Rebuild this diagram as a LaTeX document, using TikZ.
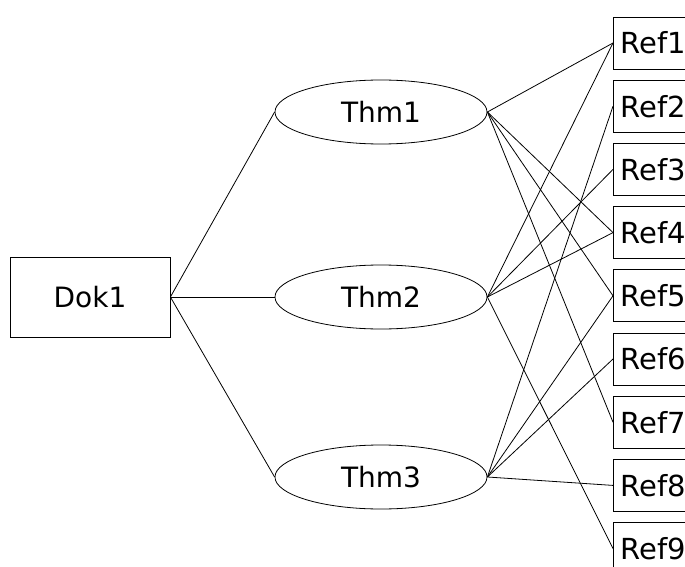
\documentclass[tikz,border=0pt]{standalone}
\usepackage{fontspec}
\setmainfont{DejaVu Sans}
\usetikzlibrary{shapes}
\tikzstyle{every node}=[font=\fontsize{28}{32}\selectfont]
\tikzstyle{dokbox}=[draw, rectangle, minimum width=160pt, minimum height=80pt, inner sep=0pt]
\tikzstyle{thmnode}=[draw, ellipse, minimum width=212pt, minimum height=64pt, inner sep=0pt]
\tikzstyle{refbox}=[draw, rectangle, anchor=west, minimum height=52pt, inner xsep=7pt, inner ysep=0pt]

\begin{document}
\begin{tikzpicture}[x=1pt, y=-1pt, line width=0.8pt]
\useasboundingbox (0,0) rectangle (685,567);
\node[dokbox] (dok1) at (90,297) {Dok1};
\node[thmnode] (thm1) at (381,112) {Thm1};
\node[thmnode] (thm2) at (381,297) {Thm2};
\node[thmnode] (thm3) at (381,477) {Thm3};
\foreach \i in {1,...,9}
  \node[refbox, font=\fontsize{29}{32}\selectfont] (ref\i) at (613,{43+63.2*(\i-1)}) {Ref\i};
\draw (dok1.east) -- (thm1.west);
\draw (dok1.east) -- (thm2.west);
\draw (dok1.east) -- (thm3.west);
\foreach \r in {1,4,5,7}
  \draw (thm1.east) -- (ref\r.west);
\foreach \r in {1,3,4,9}
  \draw (thm2.east) -- (ref\r.west);
\foreach \r in {2,5,6,8}
  \draw (thm3.east) -- (ref\r.west);
\end{tikzpicture}
\end{document}
